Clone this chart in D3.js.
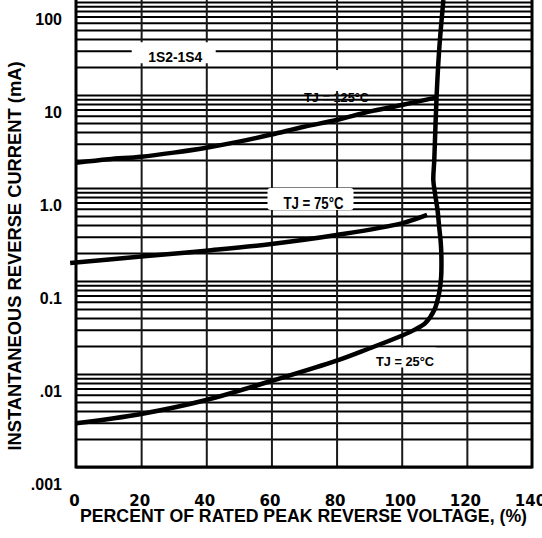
<!DOCTYPE html>
<html>
<head>
<meta charset="utf-8">
<script src="https://cdn.jsdelivr.net/npm/d3@7"></script>
<style>
  html, body { margin: 0; padding: 0; background: #fff; }
  svg { display: block; }
  text { font-family: "Liberation Sans", Arial, sans-serif; font-weight: bold; fill: #000; }
</style>
</head>
<body>
<svg id="chart"></svg>
<script>
// x axis: percent of rated peak reverse voltage
const xTicks = [0, 20, 40, 60, 80, 100, 120, 140];
// y axis: instantaneous reverse current (mA), log
const yTicks = [0.001, 0.01, 0.1, 1, 10, 100];
const yTickLabels = [".001", ".01", "0.1", "1.0", "10", "100"];

// TJ = 125°C
const pct125 = [0, 10, 20, 30, 40, 50, 60, 70, 80, 90, 100, 110.8];
const ir125 = [1.87, 2.04, 2.17, 2.40, 2.71, 3.15, 3.76, 4.56, 5.38, 6.62, 7.80, 9.44];

// TJ = 75°C
const pct75 = [-1.8, 20, 40, 60, 80, 100, 107.8];
const ir75 = [0.156, 0.183, 0.212, 0.250, 0.312, 0.417, 0.513];

// TJ = 25°C (runs up into the breakdown knee)
const pct25 = [0, 20, 40, 60, 80, 90, 100, 104, 107.3, 110.0, 111.5, 112.1, 112.2, 112.0, 111.5, 111.0, 110.2, 109.7, 110.0, 110.7, 111.5, 112.8];
const ir25 = [0.00295, 0.00372, 0.00525, 0.00841, 0.0139, 0.0188, 0.0258, 0.0300, 0.0355, 0.0487, 0.0743, 0.110, 0.168, 0.256, 0.381, 0.578, 0.883, 1.22, 2.0, 9.5, 30.5, 105];

const width = 542;
const height = 538;

const x = d3.scaleLinear().domain([0, 140]).range([76, 532]);
const y = d3.scaleLog().domain([0.001, 100]).range([467, 2]);

const svg = d3.select("#chart").attr("width", width).attr("height", height);

// the 125°C label sits under the grid in the original
const n125 = { cx: x(80), cy: y(8.4) };
svg
  .append("text")
  .attr("x", n125.cx)
  .attr("y", n125.cy)
  .attr("text-anchor", "middle")
  .attr("font-size", 13)
  .attr("textLength", 65)
  .attr("lengthAdjust", "spacingAndGlyphs")
  .text("TJ = 125°C");

// horizontal grid (every log tick)
const hGrid = svg
  .append("g")
  .attr("transform", `translate(${x(0)},0)`)
  .call(d3.axisLeft(y).tickSize(-(x(140) - x(0))).tickFormat(() => ""));
hGrid.select(".domain").remove();
hGrid.selectAll("line").attr("stroke", "#000").attr("stroke-width", 2);

// vertical grid
const vGrid = svg
  .append("g")
  .attr("transform", `translate(0,${y(0.001)})`)
  .call(d3.axisBottom(x).tickValues(xTicks.slice(1, -1)).tickSize(-y(0.001)).tickFormat(() => ""));
vGrid.select(".domain").remove();
vGrid.selectAll("line").attr("stroke", "#1a1a1a").attr("stroke-width", 2);

// gap in the grid above the 125°C label
svg
  .append("rect")
  .attr("x", n125.cx - 37)
  .attr("y", n125.cy - 32)
  .attr("width", 75)
  .attr("height", 21)
  .attr("fill", "#fff");

// boxed labels
function note(label, cx, cy, w, h, dx, dy, size, len, family) {
  svg
    .append("rect")
    .attr("x", cx - w / 2)
    .attr("y", cy - h / 2)
    .attr("width", w)
    .attr("height", h)
    .attr("rx", 3)
    .attr("fill", "#fff");
  svg
    .append("text")
    .attr("x", cx + dx)
    .attr("y", cy + dy)
    .attr("text-anchor", "middle")
    .attr("font-size", size)
    .attr("textLength", len)
    .attr("lengthAdjust", "spacingAndGlyphs")
    .style("font-family", family || null)
    .text(label);
}

note("1S2-1S4", x(30), y(30) + 2, 84, 21, 1.5, 9.5, 14, 54);
note("TJ = 75°C", x(72), y(0.76), 86, 22, 3, 10, 16, 60, '"Liberation Sans Narrow", "Liberation Sans", Arial, sans-serif');
note("TJ = 25°C", x(101), y(0.015), 66, 20, 0, 8.5, 13, 58);

// curves
const line = d3
  .line()
  .x((d) => x(d[0]))
  .y((d) => y(d[1]))
  .curve(d3.curveCatmullRom.alpha(0.5));

const curves = [
  d3.zip(pct125, ir125),
  d3.zip(pct75, ir75),
  d3.zip(pct25, ir25),
];

svg
  .append("g")
  .selectAll("path")
  .data(curves)
  .join("path")
  .attr("d", line)
  .attr("fill", "none")
  .attr("stroke", "#000")
  .attr("stroke-width", 4.5);

// plot frame (no top edge, the chart is cropped there)
svg
  .append("path")
  .attr("d", `M${x(0)},0V${y(0.001)}H${x(140)}V0`)
  .attr("fill", "none")
  .attr("stroke", "#000")
  .attr("stroke-width", 3);

// y tick labels (printed a little below their decade lines)
const yAxis = svg
  .append("g")
  .attr("transform", `translate(${x(0)},17.5)`)
  .call(
    d3
      .axisLeft(y)
      .tickValues(yTicks)
      .tickSize(0)
      .tickPadding(14)
      .tickFormat((d, i) => yTickLabels[i])
  );
yAxis.select(".domain").remove();
yAxis.selectAll("text").attr("font-size", 16).attr("fill", "#000").attr("font-family", null);

// x tick labels
const xAxis = svg
  .append("g")
  .attr("transform", `translate(-2,${y(0.001)})`)
  .call(d3.axisBottom(x).tickValues(xTicks).tickSize(0).tickPadding(28));
xAxis.select(".domain").remove();
xAxis
  .selectAll("text")
  .attr("font-size", 15)
  .attr("fill", "#000")
  .attr("font-family", null)
  .style("font-family", '"DejaVu Sans", sans-serif');

// axis titles
svg
  .append("text")
  .attr("x", 303.5)
  .attr("y", 522)
  .attr("text-anchor", "middle")
  .attr("font-size", 17.5)
  .attr("textLength", 447)
  .attr("lengthAdjust", "spacingAndGlyphs")
  .text("PERCENT OF RATED PEAK REVERSE VOLTAGE, (%)");

svg
  .append("text")
  .attr("transform", "translate(21,256) rotate(-90)")
  .attr("text-anchor", "middle")
  .attr("font-size", 18)
  .attr("textLength", 389)
  .attr("lengthAdjust", "spacingAndGlyphs")
  .text("INSTANTANEOUS REVERSE CURRENT (mA)");
</script>
</body>
</html>
